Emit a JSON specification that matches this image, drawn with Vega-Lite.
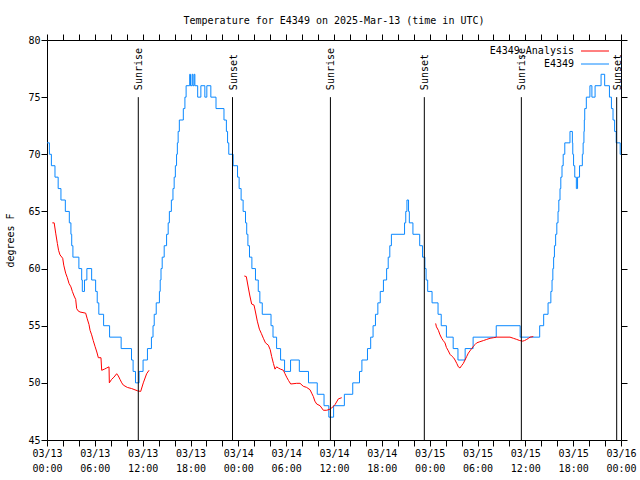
{
  "$schema": "https://vega.github.io/schema/vega-lite/v6.json",
  "width": 574,
  "height": 400,
  "autosize": {"type": "none"},
  "padding": {"left": 47, "top": 40, "right": 19, "bottom": 40},
  "background": "white",
  "title": {"text": "Temperature for E4349 on 2025-Mar-13 (time in UTC)", "font": "DejaVu Sans Mono", "fontSize": 10, "fontWeight": "normal", "color": "black", "anchor": "middle", "frame": "group", "offset": 0, "baseline": "alphabetic"},
  "config": {
    "view": {"stroke": "black", "strokeWidth": 1},
    "axis": {"labelFont": "DejaVu Sans Mono", "labelFontSize": 10, "labelColor": "black", "titleFont": "DejaVu Sans Mono", "titleFontSize": 10, "titleFontWeight": "normal", "titleColor": "black", "domain": false, "grid": false, "tickColor": "black", "tickWidth": 1, "labelOverlap": false, "labelFlush": false, "labelBound": false}
  },
  "datasets": {
    "obs": [
      {"hour":0,"temp":71,"series":"E4349"},{"hour":0.3,"temp":70,"series":"E4349"},{"hour":0.55,"temp":69,"series":"E4349"},{"hour":1.0,"temp":68,"series":"E4349"},{"hour":1.4,"temp":67,"series":"E4349"},{"hour":1.75,"temp":66,"series":"E4349"},{"hour":2.3,"temp":65,"series":"E4349"},{"hour":2.8,"temp":64,"series":"E4349"},{"hour":3.0,"temp":63,"series":"E4349"},{"hour":3.1,"temp":62,"series":"E4349"},{"hour":3.25,"temp":61,"series":"E4349"},{"hour":4.0,"temp":60,"series":"E4349"},{"hour":4.35,"temp":59,"series":"E4349"},{"hour":4.43,"temp":58,"series":"E4349"},{"hour":4.7,"temp":59,"series":"E4349"},{"hour":5.0,"temp":60,"series":"E4349"},{"hour":5.6,"temp":59,"series":"E4349"},{"hour":6.1,"temp":58,"series":"E4349"},{"hour":6.3,"temp":57,"series":"E4349"},{"hour":6.5,"temp":56,"series":"E4349"},{"hour":7.1,"temp":55,"series":"E4349"},{"hour":7.85,"temp":54,"series":"E4349"},{"hour":9.3,"temp":53,"series":"E4349"},{"hour":10.6,"temp":52,"series":"E4349"},{"hour":10.8,"temp":51,"series":"E4349"},{"hour":11.1,"temp":50,"series":"E4349"},{"hour":11.55,"temp":51,"series":"E4349"},{"hour":12.05,"temp":52,"series":"E4349"},{"hour":12.6,"temp":53,"series":"E4349"},{"hour":13.1,"temp":54,"series":"E4349"},{"hour":13.3,"temp":55,"series":"E4349"},{"hour":13.45,"temp":56,"series":"E4349"},{"hour":13.7,"temp":57,"series":"E4349"},{"hour":14.1,"temp":58,"series":"E4349"},{"hour":14.2,"temp":59,"series":"E4349"},{"hour":14.3,"temp":60,"series":"E4349"},{"hour":14.45,"temp":61,"series":"E4349"},{"hour":14.7,"temp":62,"series":"E4349"},{"hour":15.0,"temp":63,"series":"E4349"},{"hour":15.2,"temp":64,"series":"E4349"},{"hour":15.35,"temp":65,"series":"E4349"},{"hour":15.6,"temp":66,"series":"E4349"},{"hour":15.8,"temp":67,"series":"E4349"},{"hour":15.95,"temp":68,"series":"E4349"},{"hour":16.1,"temp":69,"series":"E4349"},{"hour":16.25,"temp":70,"series":"E4349"},{"hour":16.35,"temp":71,"series":"E4349"},{"hour":16.45,"temp":72,"series":"E4349"},{"hour":16.6,"temp":73,"series":"E4349"},{"hour":17.1,"temp":74,"series":"E4349"},{"hour":17.3,"temp":75,"series":"E4349"},{"hour":17.45,"temp":76,"series":"E4349"},{"hour":17.9,"temp":77,"series":"E4349"},{"hour":18.0,"temp":76,"series":"E4349"},{"hour":18.2,"temp":77,"series":"E4349"},{"hour":18.3,"temp":76,"series":"E4349"},{"hour":18.45,"temp":77,"series":"E4349"},{"hour":18.55,"temp":76,"series":"E4349"},{"hour":18.9,"temp":75,"series":"E4349"},{"hour":19.3,"temp":76,"series":"E4349"},{"hour":19.8,"temp":75,"series":"E4349"},{"hour":20.05,"temp":76,"series":"E4349"},{"hour":20.55,"temp":75,"series":"E4349"},{"hour":21.2,"temp":74,"series":"E4349"},{"hour":22.2,"temp":73,"series":"E4349"},{"hour":22.5,"temp":72,"series":"E4349"},{"hour":22.65,"temp":71,"series":"E4349"},{"hour":22.8,"temp":70,"series":"E4349"},{"hour":23.35,"temp":69,"series":"E4349"},{"hour":23.9,"temp":68,"series":"E4349"},{"hour":24.1,"temp":67,"series":"E4349"},{"hour":24.35,"temp":66,"series":"E4349"},{"hour":24.6,"temp":65,"series":"E4349"},{"hour":24.9,"temp":64,"series":"E4349"},{"hour":25.05,"temp":63,"series":"E4349"},{"hour":25.2,"temp":62,"series":"E4349"},{"hour":25.4,"temp":61,"series":"E4349"},{"hour":25.7,"temp":60,"series":"E4349"},{"hour":26.15,"temp":59,"series":"E4349"},{"hour":26.5,"temp":58,"series":"E4349"},{"hour":26.7,"temp":57,"series":"E4349"},{"hour":27.0,"temp":56,"series":"E4349"},{"hour":28.1,"temp":55,"series":"E4349"},{"hour":28.35,"temp":54,"series":"E4349"},{"hour":28.8,"temp":53,"series":"E4349"},{"hour":29.3,"temp":52,"series":"E4349"},{"hour":29.8,"temp":51,"series":"E4349"},{"hour":30.55,"temp":52,"series":"E4349"},{"hour":31.65,"temp":51,"series":"E4349"},{"hour":32.8,"temp":50,"series":"E4349"},{"hour":33.9,"temp":49,"series":"E4349"},{"hour":34.75,"temp":48,"series":"E4349"},{"hour":35.35,"temp":47,"series":"E4349"},{"hour":35.95,"temp":48,"series":"E4349"},{"hour":37.3,"temp":49,"series":"E4349"},{"hour":38.35,"temp":50,"series":"E4349"},{"hour":39.2,"temp":51,"series":"E4349"},{"hour":39.5,"temp":52,"series":"E4349"},{"hour":40.2,"temp":53,"series":"E4349"},{"hour":40.6,"temp":54,"series":"E4349"},{"hour":40.9,"temp":55,"series":"E4349"},{"hour":41.2,"temp":56,"series":"E4349"},{"hour":41.5,"temp":57,"series":"E4349"},{"hour":41.8,"temp":58,"series":"E4349"},{"hour":42.2,"temp":59,"series":"E4349"},{"hour":42.6,"temp":60,"series":"E4349"},{"hour":42.8,"temp":61,"series":"E4349"},{"hour":43.0,"temp":62,"series":"E4349"},{"hour":43.2,"temp":63,"series":"E4349"},{"hour":44.85,"temp":64,"series":"E4349"},{"hour":45.0,"temp":65,"series":"E4349"},{"hour":45.15,"temp":66,"series":"E4349"},{"hour":45.35,"temp":65,"series":"E4349"},{"hour":45.45,"temp":64,"series":"E4349"},{"hour":45.9,"temp":63,"series":"E4349"},{"hour":46.75,"temp":62,"series":"E4349"},{"hour":47.1,"temp":61,"series":"E4349"},{"hour":47.4,"temp":60,"series":"E4349"},{"hour":47.55,"temp":59,"series":"E4349"},{"hour":47.75,"temp":58,"series":"E4349"},{"hour":48.3,"temp":57,"series":"E4349"},{"hour":49.05,"temp":56,"series":"E4349"},{"hour":49.45,"temp":55,"series":"E4349"},{"hour":50.1,"temp":54,"series":"E4349"},{"hour":50.95,"temp":53,"series":"E4349"},{"hour":51.55,"temp":52,"series":"E4349"},{"hour":52.45,"temp":53,"series":"E4349"},{"hour":53.45,"temp":54,"series":"E4349"},{"hour":56.35,"temp":55,"series":"E4349"},{"hour":59.35,"temp":54,"series":"E4349"},{"hour":61.8,"temp":55,"series":"E4349"},{"hour":62.3,"temp":56,"series":"E4349"},{"hour":62.85,"temp":57,"series":"E4349"},{"hour":63.2,"temp":58,"series":"E4349"},{"hour":63.35,"temp":59,"series":"E4349"},{"hour":63.45,"temp":60,"series":"E4349"},{"hour":63.55,"temp":61,"series":"E4349"},{"hour":63.65,"temp":62,"series":"E4349"},{"hour":63.8,"temp":63,"series":"E4349"},{"hour":63.95,"temp":64,"series":"E4349"},{"hour":64.1,"temp":65,"series":"E4349"},{"hour":64.2,"temp":66,"series":"E4349"},{"hour":64.35,"temp":67,"series":"E4349"},{"hour":64.45,"temp":68,"series":"E4349"},{"hour":64.6,"temp":69,"series":"E4349"},{"hour":64.75,"temp":70,"series":"E4349"},{"hour":64.95,"temp":71,"series":"E4349"},{"hour":65.6,"temp":72,"series":"E4349"},{"hour":65.9,"temp":71,"series":"E4349"},{"hour":65.95,"temp":70,"series":"E4349"},{"hour":66.05,"temp":69,"series":"E4349"},{"hour":66.2,"temp":68,"series":"E4349"},{"hour":66.4,"temp":67,"series":"E4349"},{"hour":66.55,"temp":68,"series":"E4349"},{"hour":66.8,"temp":69,"series":"E4349"},{"hour":67.15,"temp":70,"series":"E4349"},{"hour":67.25,"temp":71,"series":"E4349"},{"hour":67.35,"temp":72,"series":"E4349"},{"hour":67.4,"temp":73,"series":"E4349"},{"hour":67.45,"temp":74,"series":"E4349"},{"hour":67.65,"temp":75,"series":"E4349"},{"hour":68.1,"temp":76,"series":"E4349"},{"hour":68.35,"temp":75,"series":"E4349"},{"hour":68.75,"temp":76,"series":"E4349"},{"hour":69.5,"temp":77,"series":"E4349"},{"hour":69.95,"temp":76,"series":"E4349"},{"hour":70.55,"temp":75,"series":"E4349"},{"hour":70.8,"temp":74,"series":"E4349"},{"hour":71.0,"temp":73,"series":"E4349"},{"hour":71.2,"temp":72,"series":"E4349"},{"hour":71.4,"temp":71,"series":"E4349"},{"hour":71.9,"temp":70,"series":"E4349"},{"hour":72,"temp":70,"series":"E4349"}
    ],
    "analysis": [
      {"hour":0.67,"temp":64.0,"series":"E4349_Analysis","seg":1},{"hour":0.9,"temp":64.0,"series":"E4349_Analysis","seg":1},{"hour":1.09,"temp":63.1,"series":"E4349_Analysis","seg":1},{"hour":1.3,"temp":62.2,"series":"E4349_Analysis","seg":1},{"hour":1.45,"temp":61.6,"series":"E4349_Analysis","seg":1},{"hour":1.63,"temp":61.2,"series":"E4349_Analysis","seg":1},{"hour":1.97,"temp":60.9,"series":"E4349_Analysis","seg":1},{"hour":2.1,"temp":60.3,"series":"E4349_Analysis","seg":1},{"hour":2.34,"temp":59.6,"series":"E4349_Analysis","seg":1},{"hour":2.55,"temp":59.2,"series":"E4349_Analysis","seg":1},{"hour":2.76,"temp":58.7,"series":"E4349_Analysis","seg":1},{"hour":3.0,"temp":58.4,"series":"E4349_Analysis","seg":1},{"hour":3.18,"temp":58.0,"series":"E4349_Analysis","seg":1},{"hour":3.4,"temp":57.6,"series":"E4349_Analysis","seg":1},{"hour":3.6,"temp":57.3,"series":"E4349_Analysis","seg":1},{"hour":3.72,"temp":56.5,"series":"E4349_Analysis","seg":1},{"hour":3.9,"temp":56.3,"series":"E4349_Analysis","seg":1},{"hour":4.14,"temp":56.2,"series":"E4349_Analysis","seg":1},{"hour":4.85,"temp":56.1,"series":"E4349_Analysis","seg":1},{"hour":5.05,"temp":55.6,"series":"E4349_Analysis","seg":1},{"hour":5.27,"temp":55.1,"series":"E4349_Analysis","seg":1},{"hour":5.4,"temp":54.6,"series":"E4349_Analysis","seg":1},{"hour":5.6,"temp":54.2,"series":"E4349_Analysis","seg":1},{"hour":5.8,"temp":53.7,"series":"E4349_Analysis","seg":1},{"hour":6.02,"temp":53.2,"series":"E4349_Analysis","seg":1},{"hour":6.25,"temp":52.7,"series":"E4349_Analysis","seg":1},{"hour":6.44,"temp":52.2,"series":"E4349_Analysis","seg":1},{"hour":6.77,"temp":52.2,"series":"E4349_Analysis","seg":1},{"hour":6.86,"temp":51.1,"series":"E4349_Analysis","seg":1},{"hour":7.2,"temp":51.2,"series":"E4349_Analysis","seg":1},{"hour":7.48,"temp":51.3,"series":"E4349_Analysis","seg":1},{"hour":7.78,"temp":51.4,"series":"E4349_Analysis","seg":1},{"hour":7.82,"temp":50.0,"series":"E4349_Analysis","seg":1},{"hour":8.1,"temp":50.3,"series":"E4349_Analysis","seg":1},{"hour":8.4,"temp":50.5,"series":"E4349_Analysis","seg":1},{"hour":8.74,"temp":50.8,"series":"E4349_Analysis","seg":1},{"hour":8.95,"temp":50.6,"series":"E4349_Analysis","seg":1},{"hour":9.16,"temp":50.3,"series":"E4349_Analysis","seg":1},{"hour":9.38,"temp":50.0,"series":"E4349_Analysis","seg":1},{"hour":9.58,"temp":49.8,"series":"E4349_Analysis","seg":1},{"hour":10.08,"temp":49.6,"series":"E4349_Analysis","seg":1},{"hour":10.62,"temp":49.5,"series":"E4349_Analysis","seg":1},{"hour":11.37,"temp":49.3,"series":"E4349_Analysis","seg":1},{"hour":11.75,"temp":49.25,"series":"E4349_Analysis","seg":1},{"hour":12.08,"temp":50.0,"series":"E4349_Analysis","seg":1},{"hour":12.5,"temp":50.8,"series":"E4349_Analysis","seg":1},{"hour":12.8,"temp":51.1,"series":"E4349_Analysis","seg":1},
      {"hour":24.75,"temp":59.35,"series":"E4349_Analysis","seg":2},{"hour":25.0,"temp":59.3,"series":"E4349_Analysis","seg":2},{"hour":25.26,"temp":58.3,"series":"E4349_Analysis","seg":2},{"hour":25.45,"temp":57.6,"series":"E4349_Analysis","seg":2},{"hour":25.67,"temp":56.9,"series":"E4349_Analysis","seg":2},{"hour":25.97,"temp":56.8,"series":"E4349_Analysis","seg":2},{"hour":26.15,"temp":56.2,"series":"E4349_Analysis","seg":2},{"hour":26.38,"temp":55.4,"series":"E4349_Analysis","seg":2},{"hour":26.64,"temp":54.7,"series":"E4349_Analysis","seg":2},{"hour":26.9,"temp":54.3,"series":"E4349_Analysis","seg":2},{"hour":27.14,"temp":53.9,"series":"E4349_Analysis","seg":2},{"hour":27.4,"temp":53.5,"series":"E4349_Analysis","seg":2},{"hour":27.76,"temp":53.3,"series":"E4349_Analysis","seg":2},{"hour":28.0,"temp":52.9,"series":"E4349_Analysis","seg":2},{"hour":28.18,"temp":52.3,"series":"E4349_Analysis","seg":2},{"hour":28.4,"temp":51.7,"series":"E4349_Analysis","seg":2},{"hour":28.6,"temp":51.2,"series":"E4349_Analysis","seg":2},{"hour":28.8,"temp":51.4,"series":"E4349_Analysis","seg":2},{"hour":29.02,"temp":51.3,"series":"E4349_Analysis","seg":2},{"hour":29.3,"temp":51.2,"series":"E4349_Analysis","seg":2},{"hour":29.65,"temp":51.1,"series":"E4349_Analysis","seg":2},{"hour":29.85,"temp":50.8,"series":"E4349_Analysis","seg":2},{"hour":30.06,"temp":50.5,"series":"E4349_Analysis","seg":2},{"hour":30.3,"temp":50.2,"series":"E4349_Analysis","seg":2},{"hour":30.57,"temp":49.9,"series":"E4349_Analysis","seg":2},{"hour":31.32,"temp":49.96,"series":"E4349_Analysis","seg":2},{"hour":31.74,"temp":49.96,"series":"E4349_Analysis","seg":2},{"hour":32.15,"temp":49.7,"series":"E4349_Analysis","seg":2},{"hour":32.57,"temp":49.6,"series":"E4349_Analysis","seg":2},{"hour":32.99,"temp":49.4,"series":"E4349_Analysis","seg":2},{"hour":33.2,"temp":49.1,"series":"E4349_Analysis","seg":2},{"hour":33.41,"temp":48.8,"series":"E4349_Analysis","seg":2},{"hour":33.6,"temp":48.4,"series":"E4349_Analysis","seg":2},{"hour":33.83,"temp":48.15,"series":"E4349_Analysis","seg":2},{"hour":34.25,"temp":48.0,"series":"E4349_Analysis","seg":2},{"hour":34.67,"temp":47.6,"series":"E4349_Analysis","seg":2},{"hour":35.08,"temp":47.6,"series":"E4349_Analysis","seg":2},{"hour":35.5,"temp":47.7,"series":"E4349_Analysis","seg":2},{"hour":35.71,"temp":47.8,"series":"E4349_Analysis","seg":2},{"hour":36.13,"temp":48.1,"series":"E4349_Analysis","seg":2},{"hour":36.55,"temp":48.6,"series":"E4349_Analysis","seg":2},{"hour":36.97,"temp":48.7,"series":"E4349_Analysis","seg":2},
      {"hour":48.75,"temp":55.2,"series":"E4349_Analysis","seg":3},{"hour":48.85,"temp":54.9,"series":"E4349_Analysis","seg":3},{"hour":49.09,"temp":54.6,"series":"E4349_Analysis","seg":3},{"hour":49.3,"temp":54.2,"series":"E4349_Analysis","seg":3},{"hour":49.51,"temp":53.9,"series":"E4349_Analysis","seg":3},{"hour":49.7,"temp":53.7,"series":"E4349_Analysis","seg":3},{"hour":49.92,"temp":53.5,"series":"E4349_Analysis","seg":3},{"hour":50.1,"temp":53.1,"series":"E4349_Analysis","seg":3},{"hour":50.34,"temp":52.8,"series":"E4349_Analysis","seg":3},{"hour":50.55,"temp":52.5,"series":"E4349_Analysis","seg":3},{"hour":50.76,"temp":52.35,"series":"E4349_Analysis","seg":3},{"hour":51.0,"temp":52.2,"series":"E4349_Analysis","seg":3},{"hour":51.18,"temp":52.0,"series":"E4349_Analysis","seg":3},{"hour":51.4,"temp":51.7,"series":"E4349_Analysis","seg":3},{"hour":51.6,"temp":51.4,"series":"E4349_Analysis","seg":3},{"hour":51.8,"temp":51.3,"series":"E4349_Analysis","seg":3},{"hour":52.0,"temp":51.5,"series":"E4349_Analysis","seg":3},{"hour":52.22,"temp":51.7,"series":"E4349_Analysis","seg":3},{"hour":52.43,"temp":52.0,"series":"E4349_Analysis","seg":3},{"hour":52.64,"temp":52.3,"series":"E4349_Analysis","seg":3},{"hour":52.85,"temp":52.6,"series":"E4349_Analysis","seg":3},{"hour":53.06,"temp":52.8,"series":"E4349_Analysis","seg":3},{"hour":53.27,"temp":53.0,"series":"E4349_Analysis","seg":3},{"hour":53.48,"temp":53.2,"series":"E4349_Analysis","seg":3},{"hour":53.7,"temp":53.35,"series":"E4349_Analysis","seg":3},{"hour":53.9,"temp":53.5,"series":"E4349_Analysis","seg":3},{"hour":54.3,"temp":53.6,"series":"E4349_Analysis","seg":3},{"hour":54.74,"temp":53.7,"series":"E4349_Analysis","seg":3},{"hour":55.15,"temp":53.8,"series":"E4349_Analysis","seg":3},{"hour":55.57,"temp":53.9,"series":"E4349_Analysis","seg":3},{"hour":56.0,"temp":53.95,"series":"E4349_Analysis","seg":3},{"hour":56.41,"temp":54.0,"series":"E4349_Analysis","seg":3},{"hour":57.2,"temp":54.0,"series":"E4349_Analysis","seg":3},{"hour":58.08,"temp":54.0,"series":"E4349_Analysis","seg":3},{"hour":58.5,"temp":53.9,"series":"E4349_Analysis","seg":3},{"hour":58.92,"temp":53.8,"series":"E4349_Analysis","seg":3},{"hour":59.3,"temp":53.7,"series":"E4349_Analysis","seg":3},{"hour":59.67,"temp":53.65,"series":"E4349_Analysis","seg":3},{"hour":59.9,"temp":53.7,"series":"E4349_Analysis","seg":3},{"hour":60.17,"temp":53.8,"series":"E4349_Analysis","seg":3},{"hour":60.4,"temp":53.9,"series":"E4349_Analysis","seg":3},{"hour":60.59,"temp":54.0,"series":"E4349_Analysis","seg":3},{"hour":61.0,"temp":54.05,"series":"E4349_Analysis","seg":3}
    ],
    "sun": [
      {"hour":11.45,"event":"Sunrise"},{"hour":23.27,"event":"Sunset"},{"hour":35.55,"event":"Sunrise"},{"hour":47.33,"event":"Sunset"},{"hour":59.5,"event":"Sunrise"},{"hour":71.46,"event":"Sunset"}
    ]
  },
  "layer": [
    {
      "data": {"name": "obs"},
      "mark": {"type": "line", "interpolate": "step-after", "strokeWidth": 1},
      "encoding": {
        "x": {"field": "hour", "type": "quantitative", "scale": {"domain": [0, 72], "nice": false, "zero": false},
          "axis": {"orient": "bottom", "values": [0,2,4,6,8,10,12,14,16,18,20,22,24,26,28,30,32,34,36,38,40,42,44,46,48,50,52,54,56,58,60,62,64,66,68,70,72], "tickSize": 6, "labelPadding": 2, "labelLineHeight": 15, "title": null,
            "labelExpr": "datum.value % 6 != 0 ? '' : ['03/' + (13 + floor(datum.value / 24)), (datum.value % 24 < 10 ? '0' : '') + (datum.value % 24) + ':00']",
            "encode": {"ticks": {"update": {"y2": {"signal": "datum.value % 6 == 0 ? -6 : -3"}}}}}},
        "y": {"field": "temp", "type": "quantitative", "scale": {"domain": [45, 80], "nice": false, "zero": false},
          "axis": {"orient": "left", "values": [45,50,55,60,65,70,75,80], "tickSize": 6, "labelPadding": 1, "title": "degrees F", "titlePadding": 12,
            "encode": {"ticks": {"update": {"x2": {"value": 6}}}}}},
        "color": {"field": "series", "type": "nominal", "scale": {"domain": ["E4349_Analysis", "E4349"], "range": ["#ff0000", "#0a88ff"]},
          "legend": {"orient": "none", "legendX": 542.5, "legendY": 5.5, "title": null, "symbolType": "M-3,0H3", "symbolSize": 87, "symbolStrokeWidth": 1, "symbolFillColor": "transparent", "labelAlign": "right", "labelOffset": -26.5, "labelFont": "DejaVu Sans Mono", "labelFontSize": 10, "labelColor": "black", "padding": 0, "rowPadding": 2}}
      }
    },
    {
      "data": {"name": "analysis"},
      "mark": {"type": "line", "strokeWidth": 1},
      "encoding": {
        "x": {"field": "hour", "type": "quantitative",
          "axis": {"orient": "top", "values": [0,2,4,6,8,10,12,14,16,18,20,22,24,26,28,30,32,34,36,38,40,42,44,46,48,50,52,54,56,58,60,62,64,66,68,70,72], "labels": false, "title": null, "tickSize": 6,
            "encode": {"ticks": {"update": {"y2": {"signal": "datum.value % 6 == 0 ? 6 : 3"}}}}}},
        "y": {"field": "temp", "type": "quantitative",
          "axis": {"orient": "right", "values": [45,50,55,60,65,70,75,80], "labels": false, "title": null, "tickSize": 6,
            "encode": {"ticks": {"update": {"x2": {"value": -6}}}}}},
        "color": {"field": "series", "type": "nominal"},
        "detail": {"field": "seg", "type": "nominal"}
      }
    },
    {
      "data": {"name": "sun"},
      "mark": {"type": "rule", "color": "black", "strokeWidth": 1},
      "encoding": {
        "x": {"field": "hour", "type": "quantitative", "axis": null},
        "y": {"datum": 75, "type": "quantitative", "axis": null},
        "y2": {"datum": 45}
      }
    },
    {
      "data": {"name": "sun"},
      "mark": {"type": "text", "angle": 270, "align": "left", "baseline": "middle", "dx": 7, "dy": 1, "font": "DejaVu Sans Mono", "fontSize": 10, "color": "black"},
      "encoding": {
        "x": {"field": "hour", "type": "quantitative", "axis": null},
        "y": {"datum": 75, "type": "quantitative", "axis": null},
        "text": {"field": "event", "type": "nominal"}
      }
    }
  ]
}
